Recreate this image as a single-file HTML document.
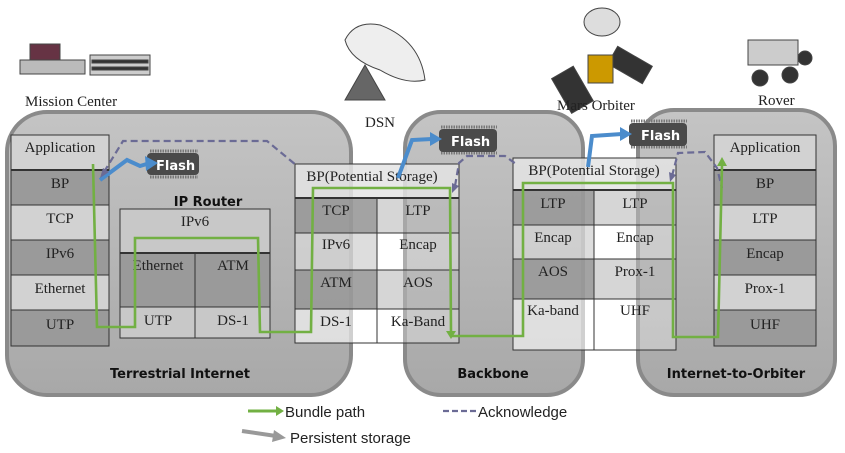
<!DOCTYPE html>
<html><head><meta charset="utf-8"><style>
html,body{margin:0;padding:0;background:#fff;}
svg{display:block;}
.s{font-family:"Liberation Serif",serif;font-size:15px;fill:#222;}
.b{font-family:"DejaVu Sans","Liberation Sans",sans-serif;font-weight:bold;font-size:13px;fill:#111;}
</style></head><body>
<svg width="845" height="453" viewBox="0 0 845 453" xmlns="http://www.w3.org/2000/svg">
<defs>
<linearGradient id="g" x1="0" y1="0" x2="0" y2="1"><stop offset="0" stop-color="#c4c4c4"/><stop offset="1" stop-color="#a8a8a8"/></linearGradient>
</defs>
<!-- top pictures (simplified) -->
<g fill="#777" stroke="#444" stroke-width="1">
<rect x="20" y="60" width="65" height="14" fill="#bbb"/><rect x="90" y="55" width="60" height="20" fill="#ccc"/>
<rect x="92" y="60" width="56" height="3" fill="#333"/><rect x="92" y="67" width="56" height="3" fill="#333"/>
<rect x="30" y="44" width="30" height="16" fill="#634"/>
<path d="M345 40 Q355 20 380 25 Q420 40 425 80 Q405 85 380 70 Q350 60 345 40Z" fill="#eee"/>
<path d="M345 100 L365 65 L385 100Z" fill="#666"/>
<rect x="560" y="70" width="25" height="40" fill="#333" transform="rotate(-30 572 90)"/>
<rect x="610" y="55" width="40" height="20" fill="#333" transform="rotate(30 630 65)"/>
<rect x="588" y="55" width="25" height="28" fill="#c90"/>
<ellipse cx="602" cy="22" rx="18" ry="14" fill="#ddd"/>
<rect x="748" y="40" width="50" height="25" fill="#ccc"/>
<circle cx="790" cy="75" r="8" fill="#333"/><circle cx="760" cy="78" r="8" fill="#333"/><circle cx="805" cy="58" r="7" fill="#333"/>
</g>
<text class="s" x="25" y="106" font-size="15">Mission Center</text>
<text class="s" x="365" y="127" font-size="15">DSN</text>
<text class="s" x="557" y="110" font-size="15">Mars Orbiter</text>
<text class="s" x="758" y="105" font-size="15">Rover</text>

<!-- big rounded boxes -->
<g fill="url(#g)" stroke="#8a8a8a" stroke-width="4">
<rect x="7" y="112" width="344" height="283" rx="40"/>
<rect x="405" y="112" width="178" height="283" rx="36"/>
<rect x="638" y="110" width="197" height="285" rx="36"/>
</g>

<g stroke="#333" stroke-width="1">
<rect x="11" y="135" width="98" height="35" fill="#d2d2d2"/>
<rect x="11" y="170" width="98" height="35" fill="#9a9a9a"/>
<rect x="11" y="205" width="98" height="35" fill="#d2d2d2"/>
<rect x="11" y="240" width="98" height="35" fill="#9a9a9a"/>
<rect x="11" y="275" width="98" height="35" fill="#d2d2d2"/>
<rect x="11" y="310" width="98" height="36" fill="#9a9a9a"/>
<line x1="11" y1="170" x2="109" y2="170" stroke-width="2"/>
<rect x="120" y="209" width="150" height="44" fill="#c8c8c8"/>
<rect x="120" y="253" width="75" height="54" fill="#9a9a9a"/>
<rect x="195" y="253" width="75" height="54" fill="#9a9a9a"/>
<rect x="120" y="307" width="75" height="31" fill="#c8c8c8"/>
<rect x="195" y="307" width="75" height="31" fill="#c8c8c8"/>
<line x1="120" y1="253" x2="270" y2="253" stroke-width="2"/>
<rect x="295" y="164" width="164" height="34" fill="#e4e4e4" fill-opacity="0.85"/>
<rect x="295" y="198" width="82" height="35" fill="#999" fill-opacity="0.9"/>
<rect x="377" y="198" width="82" height="35" fill="#bbb" fill-opacity="0.6"/>
<rect x="295" y="233" width="82" height="37" fill="#d4d4d4" fill-opacity="0.8"/>
<rect x="377" y="233" width="82" height="37" fill="#fff" fill-opacity="0.3"/>
<rect x="295" y="270" width="82" height="39" fill="#999" fill-opacity="0.9"/>
<rect x="377" y="270" width="82" height="39" fill="#bbb" fill-opacity="0.6"/>
<rect x="295" y="309" width="82" height="34" fill="#fff" fill-opacity="0.6"/>
<rect x="377" y="309" width="82" height="34" fill="#fff" fill-opacity="0.3"/>
<line x1="295" y1="198" x2="459" y2="198" stroke-width="2"/>
<rect x="513" y="158" width="163" height="32" fill="#e4e4e4" fill-opacity="0.85"/>
<rect x="513" y="190" width="81" height="35" fill="#999" fill-opacity="0.9"/>
<rect x="594" y="190" width="82" height="35" fill="#bbb" fill-opacity="0.6"/>
<rect x="513" y="225" width="81" height="34" fill="#d4d4d4" fill-opacity="0.8"/>
<rect x="594" y="225" width="82" height="34" fill="#fff" fill-opacity="0.3"/>
<rect x="513" y="259" width="81" height="40" fill="#999" fill-opacity="0.9"/>
<rect x="594" y="259" width="82" height="40" fill="#bbb" fill-opacity="0.6"/>
<rect x="513" y="299" width="81" height="51" fill="#fff" fill-opacity="0.6"/>
<rect x="594" y="299" width="82" height="51" fill="#fff" fill-opacity="0.3"/>
<line x1="513" y1="190" x2="676" y2="190" stroke-width="2"/>
<rect x="714" y="135" width="102" height="35" fill="#d2d2d2"/>
<rect x="714" y="170" width="102" height="35" fill="#9a9a9a"/>
<rect x="714" y="205" width="102" height="35" fill="#d2d2d2"/>
<rect x="714" y="240" width="102" height="35" fill="#9a9a9a"/>
<rect x="714" y="275" width="102" height="35" fill="#d2d2d2"/>
<rect x="714" y="310" width="102" height="36" fill="#9a9a9a"/>
<line x1="714" y1="170" x2="816" y2="170" stroke-width="2"/>
</g>

<g class="s" text-anchor="middle">
<text x="60" y="152">Application</text><text x="60" y="188">BP</text><text x="60" y="223">TCP</text>
<text x="60" y="258">IPv6</text><text x="60" y="293">Ethernet</text><text x="60" y="329">UTP</text>
<text x="195" y="226">IPv6</text><text x="158" y="270">Ethernet</text><text x="233" y="270">ATM</text>
<text x="158" y="325">UTP</text><text x="233" y="325">DS-1</text>
<text x="372" y="181">BP(Potential Storage)</text>
<text x="336" y="215">TCP</text><text x="418" y="215">LTP</text>
<text x="336" y="249">IPv6</text><text x="418" y="249">Encap</text>
<text x="336" y="287">ATM</text><text x="418" y="287">AOS</text>
<text x="336" y="326">DS-1</text><text x="418" y="326">Ka-Band</text>
<text x="594" y="175">BP(Potential Storage)</text>
<text x="553" y="208">LTP</text><text x="635" y="208">LTP</text>
<text x="553" y="242">Encap</text><text x="635" y="242">Encap</text>
<text x="553" y="276">AOS</text><text x="635" y="276">Prox-1</text>
<text x="553" y="315">Ka-band</text><text x="635" y="315">UHF</text>
<text x="765" y="152">Application</text><text x="765" y="188">BP</text><text x="765" y="223">LTP</text>
<text x="765" y="258">Encap</text><text x="765" y="293">Prox-1</text><text x="765" y="329">UHF</text>
</g>
<text class="b" x="208" y="206" text-anchor="middle" font-size="14">IP Router</text>
<text class="b" x="180" y="378" text-anchor="middle">Terrestrial Internet</text>
<text class="b" x="493" y="378" text-anchor="middle">Backbone</text>
<text class="b" x="736" y="378" text-anchor="middle">Internet-to-Orbiter</text>

<g>
<g stroke="#777" stroke-width="1">
<path d="M150 151h48M150 177h48M441 127h56M441 153h56M631 121h56M631 147h56" stroke-dasharray="1.5 1" stroke-width="3"/>
</g>
<rect x="147" y="153" width="52" height="22" rx="4" fill="#4a4a4a"/>
<rect x="439" y="129" width="58" height="23" rx="4" fill="#4a4a4a"/>
<rect x="629" y="123" width="58" height="23" rx="4" fill="#4a4a4a"/>
<g class="b" font-size="13" style="fill:#fff">
<text x="156" y="170">Flash</text><text x="451" y="146">Flash</text><text x="641" y="140">Flash</text>
</g>
</g>

<g fill="none" stroke="#4b8ccc" stroke-width="4">
<path d="M100 180L127 160L140 166L150 163"/>
<path d="M398 178L412 140L432 139"/>
<path d="M588 167L592 136L622 134"/>
</g>
<g fill="#4b8ccc">
<path d="M158 163L145 156L146 171Z"/><path d="M442 139L430 132L430 146Z"/><path d="M632 134L620 127L620 141Z"/>
</g>

<g fill="none" stroke="#6b6b95" stroke-width="2.2" stroke-dasharray="7 4">
<path d="M104 172L123 141L267 141L296 165"/>
<path d="M455 186L459 163L467 156L505 156L516 164"/>
<path d="M672 176L678 153L705 152L717 168L722 188"/>
</g>
<g fill="#6b6b95"><path d="M100 178L103 168L109 172Z"/><path d="M452 193L452 183L459 186Z"/><path d="M670 182L669 172L676 175Z"/></g>

<g fill="none" stroke="#72b043" stroke-width="2.6">
<path d="M93 164L97 327L135 327L135 238L258 238L260 332L311 332L313 188L450 188L451 332"/>
<path d="M450 336L523 336L523 183L673 183L673 337L718 337L722 165"/>
</g>
<g fill="#72b043"><path d="M451 339L446 331L456 331Z"/><path d="M722 157L717 166L727 166Z"/></g>

<line x1="248" y1="411" x2="278" y2="411" stroke="#72b043" stroke-width="3"/>
<path d="M284 411L276 406L276 416Z" fill="#72b043"/>
<text x="285" y="417" font-family="Liberation Sans,sans-serif" font-size="15" fill="#222">Bundle path</text>
<line x1="443" y1="411" x2="476" y2="411" stroke="#6b6b95" stroke-width="2.2" stroke-dasharray="6 3"/>
<text x="478" y="417" font-family="Liberation Sans,sans-serif" font-size="15" fill="#222">Acknowledge</text>
<line x1="242" y1="431" x2="276" y2="436" stroke="#999" stroke-width="4"/>
<path d="M286 438L274 430L272 442Z" fill="#999"/>
<text x="290" y="443" font-family="Liberation Sans,sans-serif" font-size="15" fill="#222">Persistent storage</text>
</svg>
</body></html>
